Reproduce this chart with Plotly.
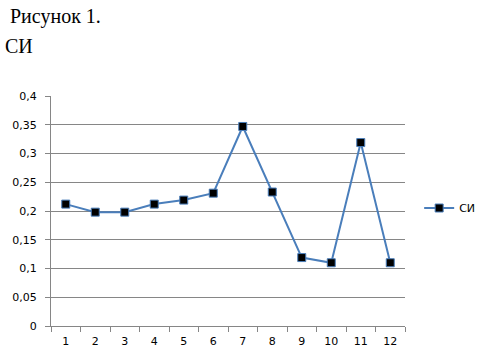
import plotly.graph_objects as go

categories = ["1", "2", "3", "4", "5", "6", "7", "8", "9", "10", "11", "12"]
si_values = [0.212, 0.198, 0.198, 0.212, 0.219, 0.231, 0.347, 0.233, 0.119, 0.110, 0.319, 0.110]
y_tick_vals = [0, 0.05, 0.1, 0.15, 0.2, 0.25, 0.3, 0.35, 0.4]
y_tick_text = ["0", "0,05", "0,1", "0,15", "0,2", "0,25", "0,3", "0,35", "0,4"]

fig = go.Figure()
fig.add_trace(go.Scatter(
    x=categories, y=si_values, mode="lines+markers", name="СИ",
    line=dict(color="#4A7EBB", width=2),
    marker=dict(symbol="square", size=8, color="black",
                line=dict(color="#4A7EBB", width=1)),
))

fig.update_layout(
    width=483, height=358,
    margin=dict(l=51, r=78, t=96, b=32, autoexpand=False),
    paper_bgcolor="white", plot_bgcolor="white",
    showlegend=True,
    legend=dict(x=1.04, y=0.513, xanchor="left", yanchor="middle",
                font=dict(family="DejaVu Sans", size=11, color="black"),
                bgcolor="rgba(0,0,0,0)"),
)
fig.add_annotation(text="Рисунок 1.", xref="paper", yref="paper",
                   x=-51/354 + 8/354, y=1 + (96 - 16)/230, xanchor="left", yanchor="middle",
                   showarrow=False, font=dict(family="Liberation Serif", size=20, color="black"))
fig.add_annotation(text="СИ", xref="paper", yref="paper",
                   x=-51/354 + 3/354, y=1 + (96 - 46)/230, xanchor="left", yanchor="middle",
                   showarrow=False, font=dict(family="Liberation Serif", size=20, color="black"))

fig.update_xaxes(
    type="category", showgrid=False, showline=True, linecolor="#868686", linewidth=1,
    ticks="outside", tickson="boundaries", ticklen=5, tickcolor="#868686",
    tickfont=dict(family="DejaVu Sans", size=11, color="black"),
    ticklabelstandoff=5, automargin=False,
    range=[-0.5, 11.5],
)
fig.update_yaxes(
    range=[0, 0.4], tickvals=y_tick_vals, ticktext=y_tick_text,
    showgrid=True, gridcolor="#868686", gridwidth=1,
    showline=True, linecolor="#868686", linewidth=1,
    ticks="outside", ticklen=5, tickcolor="#868686",
    tickfont=dict(family="DejaVu Sans", size=11, color="black"),
    ticklabelstandoff=6, automargin=False,
    zeroline=False,
)

fig.write_html("out.html")
